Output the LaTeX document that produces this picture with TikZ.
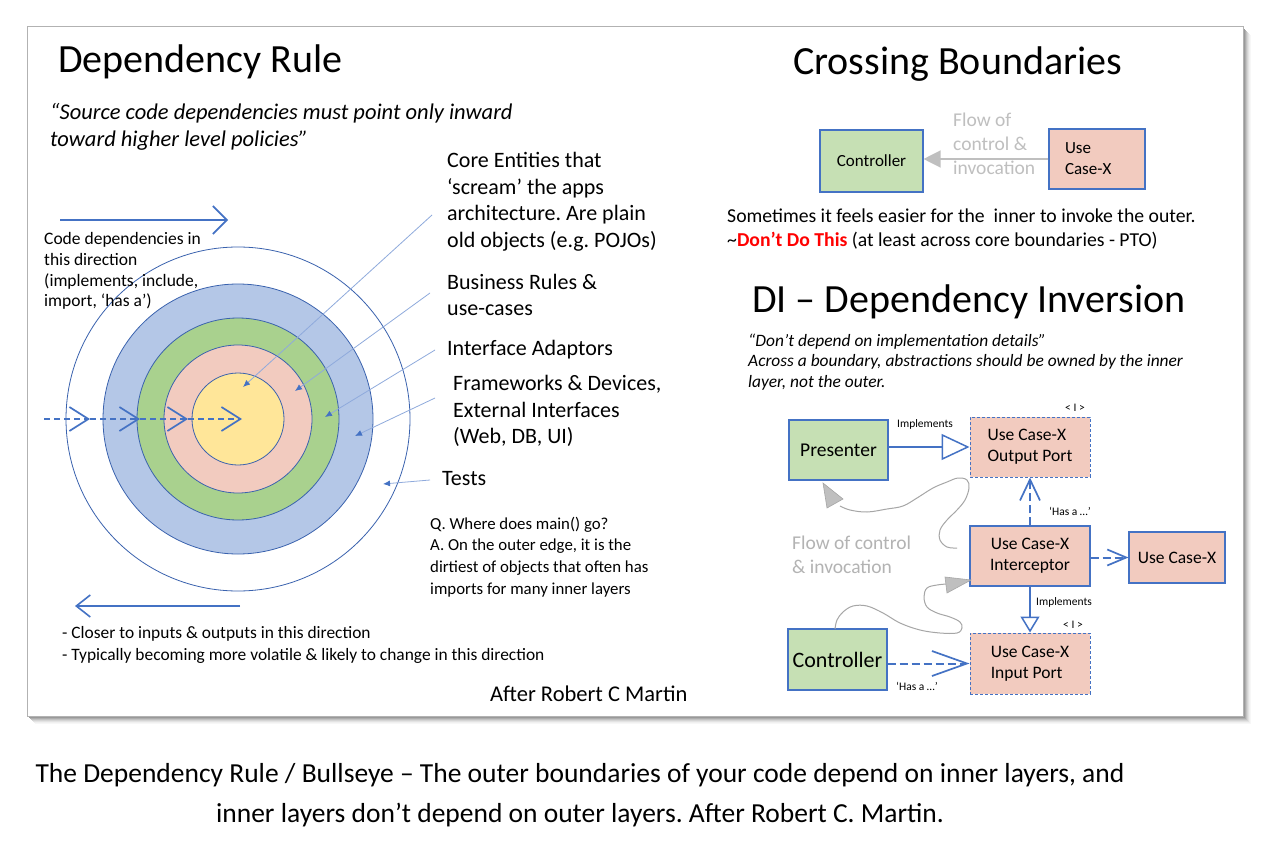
\documentclass[tikz,border=0pt]{standalone}
\usepackage{fontspec}
\setmainfont{Carlito}
\usetikzlibrary{arrows.meta}
\definecolor{ublue}{HTML}{4472C4}
\definecolor{ring}{HTML}{3A62AE}
\definecolor{cyellow}{HTML}{FFE699}
\definecolor{cpink}{HTML}{F2CBBF}
\definecolor{cgreen}{HTML}{A9D18E}
\definecolor{cblue}{HTML}{B4C7E7}
\definecolor{bgreen}{HTML}{C6E0B4}
\definecolor{leader}{HTML}{8FAADC}
\definecolor{flowc}{HTML}{BFBFBF}
\definecolor{flowd}{HTML}{A6A6A6}
\definecolor{dored}{HTML}{FF0000}
\newcommand{\fs}[2]{\fontsize{#1}{#2}\selectfont}
\begin{document}
\frenchspacing
\begin{tikzpicture}[x=1pt,y=-1pt,
  txt/.style={inner sep=0pt, anchor=west, align=left},
  title/.style={txt, font=\fs{40}{48}},
  ringst/.style={circle, draw=ring, line width=0.8pt, inner sep=0pt},
  leaderln/.style={draw=leader, line width=0.8pt, -{Latex[length=7pt,width=6pt,color=ublue]}},
  dashblue/.style={draw=ublue, line width=2pt, dash pattern=on 6pt off 4pt},
  dashdi/.style={draw=ublue, line width=2pt, dash pattern=on 8pt off 4pt},
  gbox/.style={draw=ublue, line width=1.1pt, fill=bgreen, inner sep=2pt},
  pbox/.style={draw=ublue, line width=1.1pt, fill=cpink, inner sep=2pt},
  pdbox/.style={draw=ublue, line width=1pt, dash pattern=on 3pt off 2pt, fill=cpink, inner sep=2pt},
  small/.style={inner sep=0pt, font=\fs{11.5}{13}},
  flowtxt/.style={txt, text=flowc, font=\fs{19.5}{24}},
  freehand/.style={draw=flowd, line width=1pt}
]
\useasboundingbox (0,0) rectangle (1267,843);
\fill[white] (0,0) rectangle (1267,843);

% slide frame and shadow
\foreach \i/\c in {1/40,2/32,3/24,4/17,5/11,6/6,7/3}{
  \draw[black!\c, line width=1pt] (28+\i,716+\i) -- (1243+\i,716+\i) -- (1243+\i,28+\i);
}
\draw[black!30, line width=1pt] (27,27) rectangle (1243,716);

% ---------------- Left: Dependency Rule ----------------
% bullseye
\node[ringst, fill=white, minimum size=344pt] (r5) at (238,419) {};
\node[ringst, fill=cblue, minimum size=270pt] (r4) at (238,419) {};
\node[ringst, fill=cgreen, minimum size=202pt] (r3) at (238,419) {};
\node[ringst, fill=cpink, minimum size=148pt] (r2) at (238,419) {};
\node[ringst, fill=cyellow, minimum size=92pt] (r1) at (238,419) {};

\node[title] (t1) at (58,62) {Dependency Rule};
\node[txt, font=\itshape\fs{22.5}{27}] (quote) at (50,127) {“Source code dependencies must point only inward\\toward higher level policies”};

\coordinate (ta1) at (60,220);
\coordinate (ta2) at (228,220);
\draw[ublue, line width=1.6pt, -{Straight Barb[length=14pt,width=28pt]}] (ta1) -- (ta2);
\node[txt, font=\fs{17.5}{20.7}] (codedep) at (44,271) {Code dependencies in\\this direction\\(implements, include,\\import, ‘has a’)};

% dashed inward arrows
\coordinate (d0) at (44,419);
\coordinate (d1) at (90,419);
\coordinate (d2) at (140,419);
\coordinate (d3) at (188,419);
\coordinate (d4) at (242,419);
\foreach \a/\b in {d0/d1,d1/d2,d2/d3,d3/d4}{
  \draw[dashblue, -{Straight Barb[length=19pt,width=24pt,line width=1.7pt]}] (\a) -- (\b);
}

% labels
\node[txt, font=\fs{22}{26.5}] (lcore) at (447,202) {Core Entities that\\‘scream’ the apps\\architecture. Are plain\\old objects (e.g. POJOs)};
\node[txt, font=\fs{22}{26.5}] (lbus) at (447,295) {Business Rules \&\\use-cases};
\node[txt, font=\fs{22}{26.5}] (lint) at (447,350) {Interface Adaptors};
\node[txt, font=\fs{22}{26.5}] (lfw) at (453,411) {Frameworks \& Devices,\\External Interfaces\\(Web, DB, UI)};
\node[txt, font=\fs{22}{26.5}] (ltest) at (442,479) {Tests};

\coordinate (e1) at (432,215); \coordinate (f1) at (243,387);
\coordinate (e2) at (430,293); \coordinate (f2) at (295,391);
\coordinate (e3) at (435,350); \coordinate (f3) at (325,417);
\coordinate (e4) at (435,398); \coordinate (f4) at (355,436);
\coordinate (e5) at (430,480); \coordinate (f5) at (383,484);
\foreach \e/\f in {e1/f1,e2/f2,e3/f3,e4/f4,e5/f5}{
  \draw[leaderln] (\e) -- (\f);
}

\node[txt, font=\fs{16.8}{21.8}] (qa) at (430,557) {Q. Where does main() go?\\A. On the outer edge, it is the\\dirtiest of objects that often has\\imports for many inner layers};

\coordinate (ba1) at (240,606);
\coordinate (ba2) at (75,606);
\draw[ublue, line width=1.6pt, -{Straight Barb[length=14pt,width=22pt]}] (ba1) -- (ba2);
\node[txt, font=\fs{17.4}{22}] (closer) at (62,645) {- Closer to inputs \& outputs in this direction\\- Typically becoming more volatile \& likely to change in this direction};
\node[txt, font=\fs{22.5}{26}] (after) at (490,694) {After Robert C Martin};

% ---------------- Right: Crossing Boundaries ----------------
\node[title] (t2) at (793,64) {Crossing Boundaries};
\node[gbox, minimum width=103pt, minimum height=62pt, font=\fs{17}{21}] (cbctrl) at (871.5,161) {Controller};
\node[pbox, minimum width=96pt, minimum height=60pt, text width=64pt, align=left, font=\fs{17}{21}] (cbuc) at (1097,159) {Use\\Case-X};
\draw[flowc, line width=1.3pt, -{Triangle[length=17pt,width=17pt]}] (cbuc.west) -- (cbctrl.east |- cbuc.west);
\node[flowtxt] (cbflow) at (953,144) {Flow of\\control \&\\invocation};
\node[txt, font=\fs{19.7}{24}] (cbtxt) at (727,229) {Sometimes it feels easier for the\ \ inner to invoke the outer.\\\textasciitilde{\color{dored}\bfseries Don’t Do This} (at least across core boundaries - PTO)};

% ---------------- Right: DI ----------------
\node[title] (t3) at (752,302) {DI – Dependency Inversion};
\node[txt, font=\itshape\fs{17.4}{20.5}] (ditxt) at (748,362) {“Don’t depend on implementation details”\\Across a boundary, abstractions should be owned by the inner\\layer, not the outer.};

\node[gbox, minimum width=99pt, minimum height=60pt, font=\fs{19.5}{23}] (pres) at (838.5,450) {Presenter};
\node[pdbox, minimum width=120pt, minimum height=60pt, align=left, font=\fs{17.5}{21}] (outp) at (1030,447) {Use Case-X\\Output Port};
\node[pbox, minimum width=120pt, minimum height=60pt, align=center, font=\fs{17.5}{21}] (inter) at (1030,556) {Use Case-X\\Interceptor};
\node[pbox, minimum width=96pt, minimum height=51pt, font=\fs{17.5}{21}] (ucx) at (1177,557.5) {Use Case-X};
\node[pdbox, minimum width=120pt, minimum height=61pt, align=left, font=\fs{17.5}{21}] (inp) at (1030,663.5) {Use Case-X\\Input Port};
\node[gbox, minimum width=99pt, minimum height=61pt, font=\fs{22}{26}] (ctrl) at (837.5,659.5) {Controller};

\node[small] (i1) at (1075,408) {< I >};
\node[small] (i2) at (1073,625) {< I >};
\node[small] (imp1) at (925,424) {Implements};
\node[small] (imp2) at (1064,602) {Implements};
\node[small] (has1) at (1070,511) {‘Has a …’};
\node[small] (has2) at (917,686) {‘Has a …’};

\draw[ublue, line width=1.5pt, -{Triangle[open,length=28pt,width=26pt]}] (pres.east |- outp.west) -- (outp.west);
\draw[ublue, line width=1.5pt, -{Triangle[open,length=16pt,width=19pt]}] (inter.south) -- (inp.north);
\draw[dashdi, -{Straight Barb[length=21pt,width=20pt,line width=1.7pt]}] (inter.north) -- (outp.south);
\draw[dashdi, -{Straight Barb[length=19pt,width=16pt,line width=1.7pt]}] (inter.east |- ucx.west) -- (ucx.west);
\draw[dashdi, -{Straight Barb[length=35pt,width=25pt,line width=1.7pt]}] (ctrl.east |- inp.west) -- (inp.west);

\node[flowtxt, text=flowd!85] (diflow) at (792,555) {Flow of control\\\& invocation};

% freehand flow curves
\draw[freehand] plot[smooth, tension=0.6] coordinates {(957,548) (947,547) (940,540) (940,530) (947,520) (957,510) (965,500) (969,488) (967,480) (958,478) (947,482) (933,488) (917,498) (903,506) (887,509) (867,512) (850,510) (840,506)};
\filldraw[fill=flowc, draw=flowd, line width=0.6pt] (823,483) -- (827,508) -- (843,499) -- cycle;
\draw[freehand] plot[smooth, tension=0.6] coordinates {(835,629) (837,620) (843,612) (853,606) (867,606) (883,613) (900,623) (920,630) (940,633) (957,633) (962,628) (960,622) (950,617) (937,613) (927,607) (924,597) (927,588) (937,585) (947,584)};
\filldraw[fill=flowc, draw=flowd, line width=0.6pt] (945,577) -- (947,593) -- (971,580) -- cycle;

% caption
\node[inner sep=0pt, align=center, font=\fs{27.5}{40}] (caption) at (580,795) {The Dependency Rule / Bullseye – The outer boundaries of your code depend on inner layers, and\\inner layers don’t depend on outer layers. After Robert C. Martin.};
\end{tikzpicture}
\end{document}
